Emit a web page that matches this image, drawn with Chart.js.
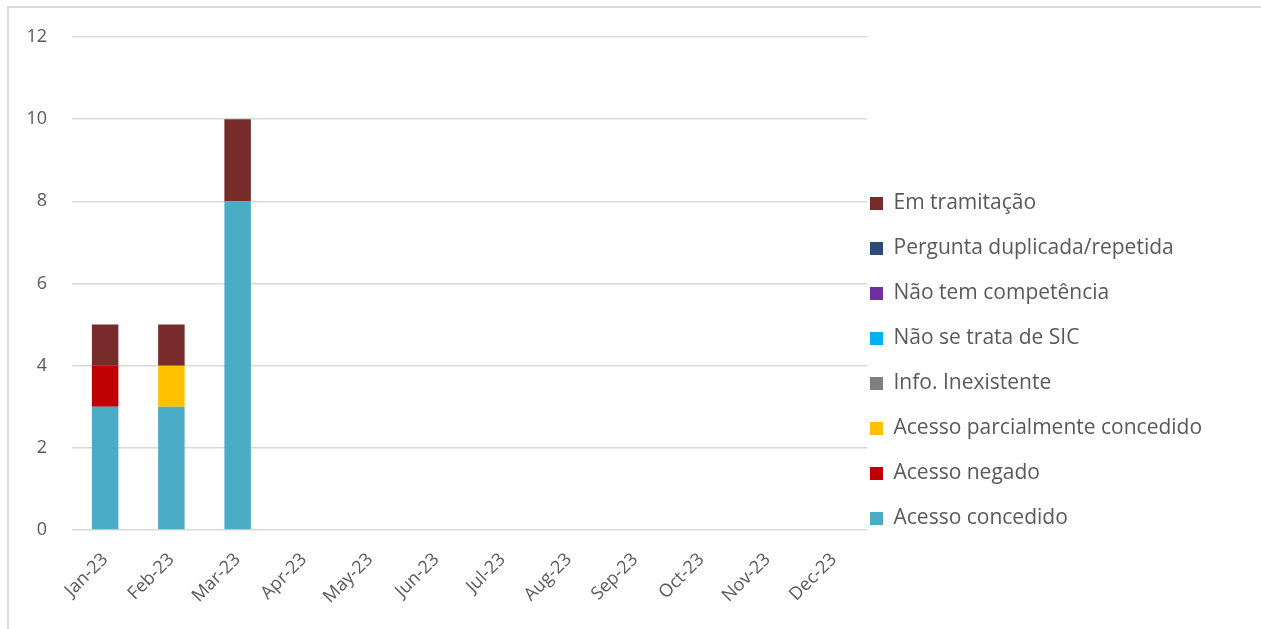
<!DOCTYPE html>
<html>
<head>
<meta charset="utf-8">
<script src="https://cdn.jsdelivr.net/npm/chart.js@4.4.0/dist/chart.umd.min.js"></script>
<style>
  html, body { margin: 0; padding: 0; background: #fff; }
  #wrap { position: relative; width: 1261px; height: 629px; overflow: hidden; }
  #frame { position: absolute; left: 7px; top: 6px; width: 1300px; height: 700px;
           border-top: 2px solid #d9d9d9; border-left: 2px solid #d9d9d9; box-sizing: border-box; }
  canvas { position: absolute; left: 0; top: 0; }
</style>
</head>
<body>
<div id="wrap">
  <div id="frame"></div>
  <canvas id="c" width="1261" height="629"></canvas>
</div>
<script>
const categories = ['Jan-23','Feb-23','Mar-23','Apr-23','May-23','Jun-23','Jul-23','Aug-23','Sep-23','Oct-23','Nov-23','Dec-23'];
const acessoConcedido     = [3, 3, 8, 0, 0, 0, 0, 0, 0, 0, 0, 0];
const acessoNegado        = [1, 0, 0, 0, 0, 0, 0, 0, 0, 0, 0, 0];
const acessoParcial       = [0, 1, 0, 0, 0, 0, 0, 0, 0, 0, 0, 0];
const infoInexistente     = [0, 0, 0, 0, 0, 0, 0, 0, 0, 0, 0, 0];
const naoSeTrataSIC       = [0, 0, 0, 0, 0, 0, 0, 0, 0, 0, 0, 0];
const naoTemCompetencia   = [0, 0, 0, 0, 0, 0, 0, 0, 0, 0, 0, 0];
const perguntaDuplicada   = [0, 0, 0, 0, 0, 0, 0, 0, 0, 0, 0, 0];
const emTramitacao        = [1, 1, 2, 0, 0, 0, 0, 0, 0, 0, 0, 0];
const yTicks = [0, 2, 4, 6, 8, 10, 12];

const FONT = '"Open Sans"';
const AXIS_FS = 18;
const LEG_FS = 21;
const TXT = '#595959';

const seriesNames = ['Acesso concedido','Acesso negado','Acesso parcialmente concedido','Info. Inexistente',
  'Não se trata de SIC','Não tem competência','Pergunta duplicada/repetida','Em tramitação'];
const seriesData = [acessoConcedido, acessoNegado, acessoParcial, infoInexistente,
  naoSeTrataSIC, naoTemCompetencia, perguntaDuplicada, emTramitacao];
const seriesColors = ['#4BACC6','#C00000','#FFC000','#7F7F7F','#00B0F0','#7030A0','#2C4B78','#772B2B'];

// measure legend text to place legend so the plot ends at x=867
const mctx = document.createElement('canvas').getContext('2d');
mctx.font = LEG_FS + 'px ' + FONT;
let maxW = 0;
seriesNames.forEach(n => { maxW = Math.max(maxW, mctx.measureText(n).width); });
const PAD_TOP = 37;
const LEG_PAD = 3;
const legendWidth = LEG_PAD + 13 + LEG_FS / 2 + maxW + 10;
const padRight = Math.max(0, 1261 - 867 - legendWidth);
const firstItemTop = 203.5 - LEG_FS / 2;

const ctx = document.getElementById('c').getContext('2d');
new Chart(ctx, {
  type: 'bar',
  data: {
    labels: categories,
    datasets: seriesData.map((d, i) => ({
      label: seriesNames[i],
      data: d,
      backgroundColor: seriesColors[i],
      borderWidth: 0,
      barPercentage: 0.4,
      categoryPercentage: 1.0
    }))
  },
  options: {
    responsive: false,
    animation: false,
    layout: { padding: { left: 8, top: PAD_TOP, right: padRight, bottom: 0 } },
    plugins: {
      tooltip: { enabled: false },
      legend: {
        position: 'right',
        align: 'start',
        reverse: true,
        maxWidth: 1000,
        title: { display: true, text: '', font: { size: 10, lineHeight: 1 },
                 padding: { top: 0, bottom: firstItemTop - PAD_TOP - LEG_PAD - 10 } },
        labels: {
          color: TXT,
          font: { family: FONT, size: LEG_FS, lineHeight: 42 / LEG_FS },
          boxWidth: 13,
          boxHeight: 13,
          padding: LEG_PAD,
          generateLabels: (chart) => {
            const items = Chart.defaults.plugins.legend.labels.generateLabels(chart);
            items.forEach(it => { it.text = [it.text]; it.lineWidth = 0; });
            return items;
          }
        }
      }
    },
    scales: {
      x: {
        stacked: true,
        grid: { display: false },
        border: { display: false },
        ticks: {
          color: TXT,
          font: { family: FONT, size: AXIS_FS },
          maxRotation: 45,
          minRotation: 45,
          autoSkip: false,
          padding: 11
        },
        afterFit: (s) => { s.height = 99; }
      },
      y: {
        stacked: true,
        min: 0,
        max: 12,
        afterBuildTicks: (s) => { s.ticks = yTicks.map(v => ({ value: v })); },
        grid: { color: '#d9d9d9', lineWidth: 1.5, drawTicks: false },
        border: { display: false },
        ticks: {
          color: TXT,
          font: { family: FONT, size: AXIS_FS },
          padding: 25
        },
        afterFit: (s) => { s.width = 64; }
      }
    }
  }
});
</script>
</body>
</html>
